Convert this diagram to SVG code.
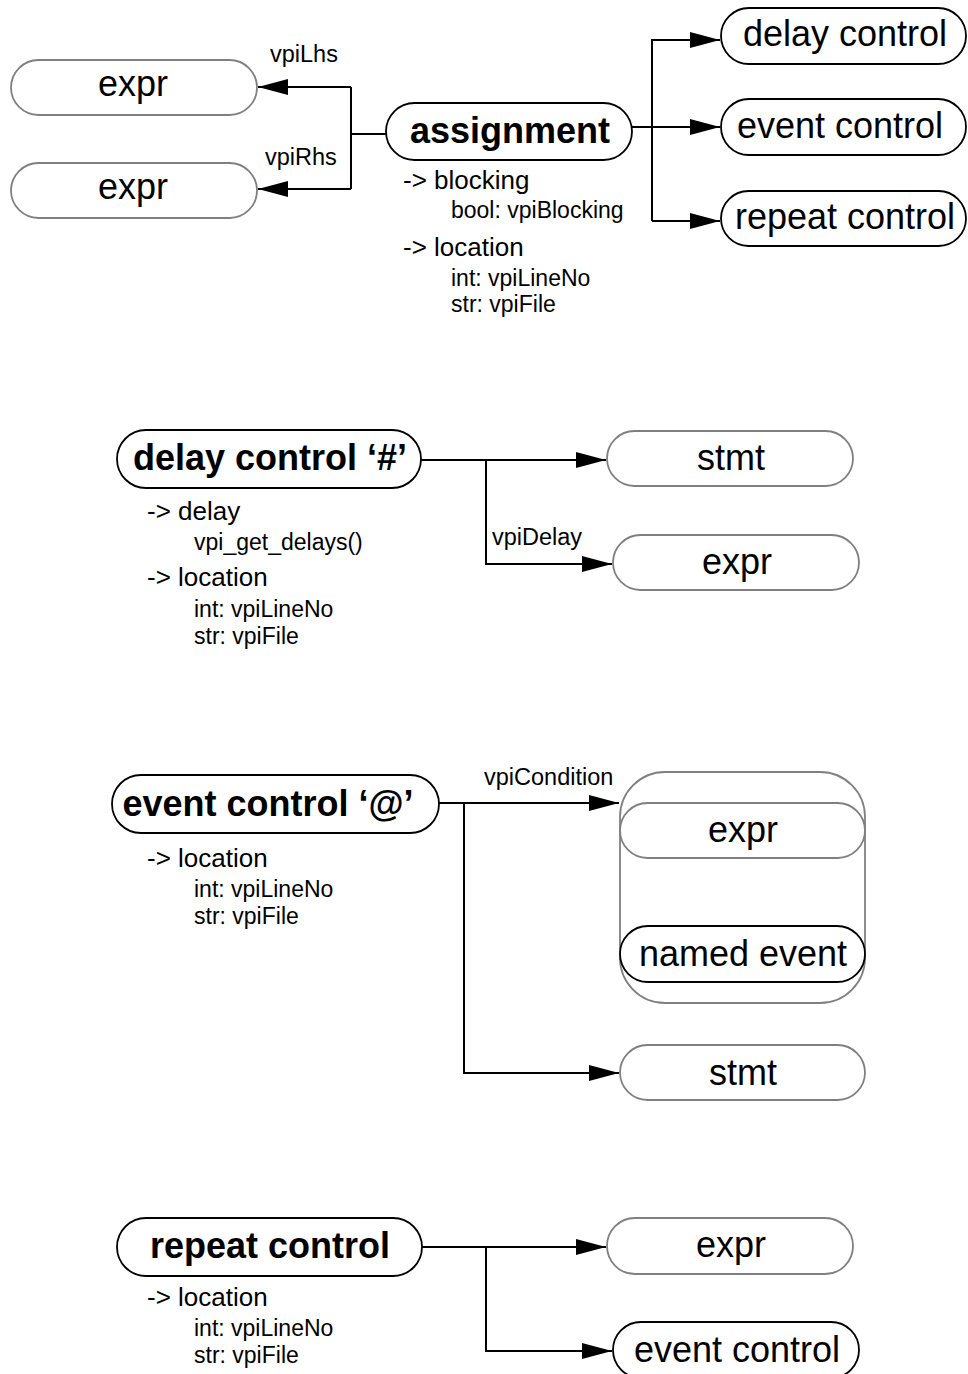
<svg xmlns="http://www.w3.org/2000/svg" width="968" height="1374" viewBox="0 0 968 1374">
<defs>
<marker id="arr" markerUnits="userSpaceOnUse" markerWidth="30" markerHeight="16" refX="30" refY="8" orient="auto">
<path d="M0,0 L30,8 L0,16 z" fill="#000"/>
</marker>
<style>
.nb{fill:#fff;stroke:#000;stroke-width:1.8}
.ng{fill:#fff;stroke:#808080;stroke-width:1.8}
.cont{fill:none;stroke:#808080;stroke-width:1.8}
.t{font-family:"Liberation Sans",Arial,sans-serif;font-size:36px;text-anchor:middle;fill:#000}
.tb{font-family:"Liberation Sans",Arial,sans-serif;font-size:36px;font-weight:bold;text-anchor:middle;fill:#000}
.a{font-family:"Liberation Sans",Arial,sans-serif;font-size:26px;fill:#000}
.s{font-family:"Liberation Sans",Arial,sans-serif;font-size:23px;fill:#000}
.l{font-family:"Liberation Sans",Arial,sans-serif;font-size:23.5px;fill:#000}
.c{fill:none;stroke:#000;stroke-width:2}
</style>
</defs>

<g id="connectors">
<path class="c" d="M386,134 H351"/>
<path class="c" d="M351,87 V189"/>
<path class="c" d="M351,87 H258" marker-end="url(#arr)"/>
<path class="c" d="M351,189 H258" marker-end="url(#arr)"/>
<text class="l" x="270" y="62">vpiLhs</text>
<text class="l" x="265" y="165">vpiRhs</text>

<path class="c" d="M632,127 H720" marker-end="url(#arr)"/>
<path class="c" d="M652,221 V40 H720" marker-end="url(#arr)"/>
<path class="c" d="M652,221 H720" marker-end="url(#arr)"/>

<path class="c" d="M421,460 H606" marker-end="url(#arr)"/>
<path class="c" d="M486,460 V564 H612" marker-end="url(#arr)"/>
<text class="l" x="492" y="545">vpiDelay</text>

<path class="c" d="M439,803 H619" marker-end="url(#arr)"/>
<path class="c" d="M464,803 V1073 H619" marker-end="url(#arr)"/>
<text class="l" x="484" y="785">vpiCondition</text>

<path class="c" d="M422,1247 H606" marker-end="url(#arr)"/>
<path class="c" d="M486,1247 V1351 H612" marker-end="url(#arr)"/>
</g>

<g id="expr_lhs">
<rect class="ng" x="11" y="60" width="246" height="55" rx="27.5"/>
<text class="t" x="133" y="96">expr</text>
</g>
<g id="expr_rhs">
<rect class="ng" x="11" y="163" width="246" height="55" rx="27.5"/>
<text class="t" x="133" y="199">expr</text>
</g>
<g id="assignment">
<rect class="nb" x="386" y="103" width="246" height="57" rx="28.5"/>
<text class="tb" x="510" y="143">assignment</text>
<text class="a" x="403" y="189">-&gt; blocking</text>
<text class="s" x="451" y="218">bool: vpiBlocking</text>
<text class="a" x="403" y="256">-&gt; location</text>
<text class="s" x="451" y="286">int: vpiLineNo</text>
<text class="s" x="451" y="312">str: vpiFile</text>
</g>
<g id="delay_control_ref">
<rect class="nb" x="721" y="8" width="245" height="56" rx="28"/>
<text class="t" x="845" y="46">delay control</text>
</g>
<g id="event_control_ref">
<rect class="nb" x="721" y="99" width="245" height="56" rx="28"/>
<text class="t" x="840" y="138">event control</text>
</g>
<g id="repeat_control_ref">
<rect class="nb" x="721" y="191" width="245" height="55" rx="27.5"/>
<text class="t" x="845" y="229">repeat control</text>
</g>

<g id="delay_control">
<rect class="nb" x="117" y="430" width="304" height="58" rx="29"/>
<text class="tb" x="270" y="470">delay control ‘#’</text>
<text class="a" x="147" y="520">-&gt; delay</text>
<text class="s" x="194" y="550">vpi_get_delays()</text>
<text class="a" x="147" y="586">-&gt; location</text>
<text class="s" x="194" y="617">int: vpiLineNo</text>
<text class="s" x="194" y="644">str: vpiFile</text>
</g>
<g id="delay_stmt">
<rect class="ng" x="607" y="431" width="246" height="55" rx="27.5"/>
<text class="t" x="731" y="470">stmt</text>
</g>
<g id="delay_expr">
<rect class="ng" x="613" y="535" width="246" height="55" rx="27.5"/>
<text class="t" x="737" y="574">expr</text>
</g>

<g id="event_control">
<rect class="nb" x="112" y="775" width="327" height="58" rx="29"/>
<text class="tb" x="268" y="816">event control ‘@’</text>
<text class="a" x="147" y="867">-&gt; location</text>
<text class="s" x="194" y="897">int: vpiLineNo</text>
<text class="s" x="194" y="924">str: vpiFile</text>
</g>
<g id="condition_group">
<rect class="cont" x="620" y="772" width="245" height="231" rx="45"/>
</g>
<g id="cond_expr">
<rect class="ng" x="620" y="803" width="245" height="55" rx="27.5"/>
<text class="t" x="743" y="842">expr</text>
</g>
<g id="named_event">
<rect class="nb" x="620" y="926" width="245" height="56" rx="28"/>
<text class="t" x="743" y="966">named event</text>
</g>
<g id="event_stmt">
<rect class="ng" x="620" y="1045" width="245" height="55" rx="27.5"/>
<text class="t" x="743" y="1085">stmt</text>
</g>

<g id="repeat_control">
<rect class="nb" x="117" y="1218" width="305" height="58" rx="29"/>
<text class="tb" x="270" y="1258">repeat control</text>
<text class="a" x="147" y="1306">-&gt; location</text>
<text class="s" x="194" y="1336">int: vpiLineNo</text>
<text class="s" x="194" y="1363">str: vpiFile</text>
</g>
<g id="repeat_expr">
<rect class="ng" x="607" y="1218" width="246" height="56" rx="28"/>
<text class="t" x="731" y="1257">expr</text>
</g>
<g id="repeat_event_control">
<rect class="nb" x="613" y="1322" width="246" height="56" rx="28"/>
<text class="t" x="737" y="1362">event control</text>
</g>
</svg>
